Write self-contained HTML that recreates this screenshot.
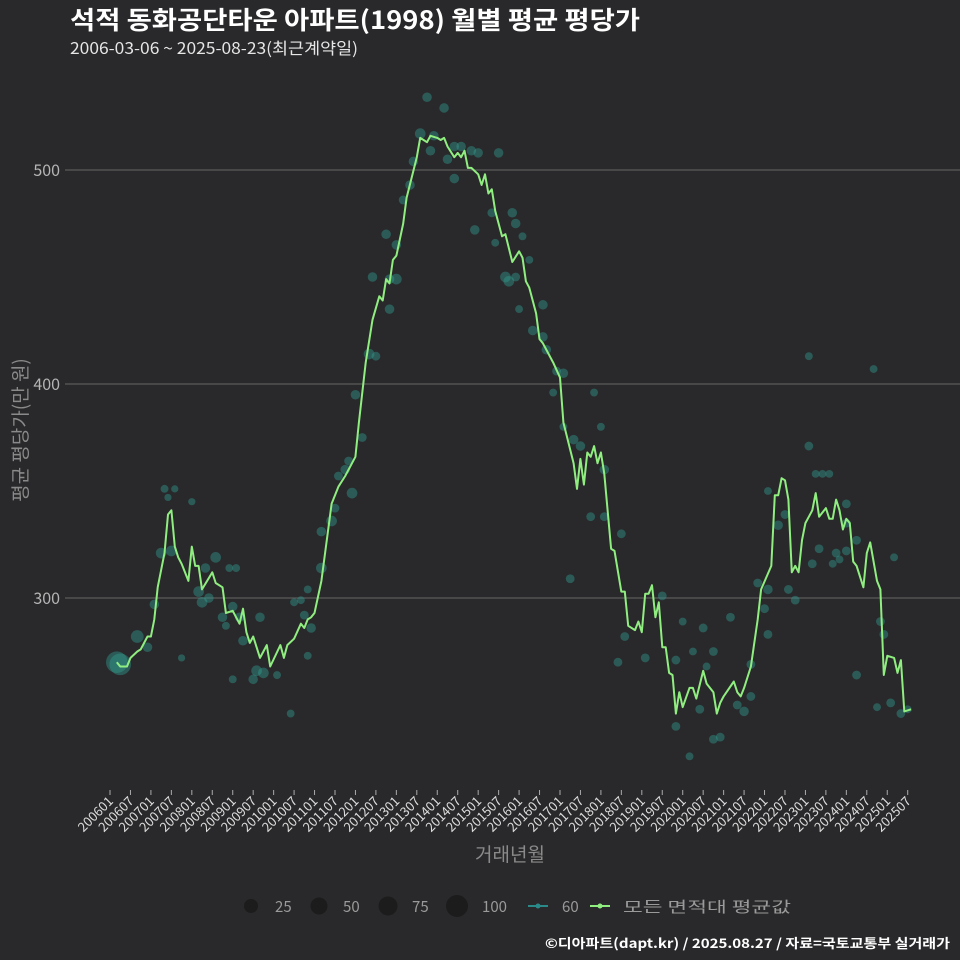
<!DOCTYPE html>
<html><head><meta charset="utf-8">
<style>
html,body{margin:0;padding:0;background:#29292b;}
body{width:960px;height:960px;overflow:hidden;position:relative;font-family:"Noto Sans CJK KR","Liberation Sans",sans-serif;}
#ytitle{position:absolute;left:20px;top:430px;width:200px;margin-left:-100px;margin-top:-12px;height:24px;line-height:24px;text-align:center;color:#8a8a8a;font-size:19px;transform:rotate(-90deg);white-space:nowrap;}
</style></head>
<body>
<svg id="chart" width="960" height="960" xmlns="http://www.w3.org/2000/svg" style="position:absolute;left:0;top:0;font-family:'Noto Sans CJK KR','Liberation Sans',sans-serif">
<rect width="960" height="960" fill="#29292b"/>
<text x="70" y="29" fill="#ffffff" font-size="25" font-weight="bold" textLength="570" lengthAdjust="spacingAndGlyphs">석적 동화공단타운 아파트(1998) 월별 평균 평당가</text>
<text x="70" y="54" fill="#e6e6e6" font-size="16" textLength="288" lengthAdjust="spacingAndGlyphs">2006-03-06 ~ 2025-08-23(최근계약일)</text>
<g id="grid"></g>
<g id="bubbles"></g>
<g id="line"></g>
<g id="xaxis"></g>
<text x="510" y="861" fill="#8a8a8a" font-size="19" text-anchor="middle">거래년월</text>
<g>
  <circle cx="251" cy="906" r="7" fill="#1c1c1c"/>
  <text x="275" y="912" fill="#9a9a9a" font-size="15">25</text>
  <circle cx="319" cy="906" r="8.5" fill="#1c1c1c"/>
  <text x="343" y="912" fill="#9a9a9a" font-size="15">50</text>
  <circle cx="388" cy="906" r="9.5" fill="#1c1c1c"/>
  <text x="412" y="912" fill="#9a9a9a" font-size="15">75</text>
  <circle cx="457" cy="906" r="11" fill="#1c1c1c"/>
  <text x="482" y="912" fill="#9a9a9a" font-size="15">100</text>
  <line x1="528" y1="906" x2="548" y2="906" stroke="#2a8a8a" stroke-width="2"/>
  <circle cx="538" cy="906" r="2.5" fill="#2a8a8a"/>
  <text x="562" y="912" fill="#9a9a9a" font-size="15">60</text>
  <line x1="590" y1="906" x2="610" y2="906" stroke="#90ee80" stroke-width="2"/>
  <circle cx="600" cy="906" r="2.5" fill="#90ee80"/>
  <text x="623" y="912" fill="#9a9a9a" font-size="15" textLength="168" lengthAdjust="spacingAndGlyphs">모든 면적대 평균값</text>
</g>
<text x="950" y="948" fill="#ffffff" font-size="13" font-weight="bold" text-anchor="end" textLength="405" lengthAdjust="spacingAndGlyphs">©디아파트(dapt.kr) / 2025.08.27 / 자료=국토교통부 실거래가</text>
</svg>
<div id="ytitle">평균 평당가(만 원)</div>
<script>
// months since 2006-01 for the average line
const lineMonths=[2,3,5,6,8,9,11,12,13,14,16,17,18,19,20,21,23,24,25,26,27,30,31,33,34,36,38,39,40,41,42,44,46,47,50,51,52,54,56,57,58,59,60,62,64,65,67,69,72,73,75,77,79,80,81,82,83,84,86,87,90,91,92,93,94,96,97,98,99,101,102,103,104,105,106,108,109,110,111,112,113,115,116,118,120,121,122,123,125,126,127,130,132,133,136,137,138,139,140,141,142,143,144,145,147,148,150,151,152,154,155,156,157,158,159,160,161,162,163,164,165,166,167,168,170,171,172,174,175,177,178,179,180,183,184,185,186,188,189,190,191,194,195,196,197,198,199,200,201,202,203,204,206,207,208,210,211,212,213,214,215,216,217,218,219,221,222,223,225,226,227,228,230,231,232,233,235];
const lineValues=[270,268,268,272,275,276,282,282,290,305,321,339,341,324,319,316,308,324,315,315,304,312,307,305,293,294,288,295,284,279,282,272,278,268,278,272,278,281,288,286,290,291,293,308,332,344,352,357,366,382,410,430,441,439,449,447,458,460,475,487,506,515,514,513,516,515,514,515,511,506,508,506,509,501,501,498,493,498,489,491,481,469,470,457,462,459,448,445,433,421,419,410,403,382,363,351,365,353,368,366,371,363,368,358,323,322,303,303,287,285,289,284,302,302,306,291,298,277,277,265,264,246,256,249,258,258,253,266,260,256,246,251,254,261,256,254,258,268,279,290,304,315,348,348,356,355,346,312,315,312,327,335,341,349,338,342,337,337,346,341,332,337,335,317,315,305,321,326,308,304,264,273,272,265,271,247,248];
// individual 60㎡ monthly averages: month, value, count
const dotMonths=[2,3,8,11,16,17,19,24,21,13,15,18,26,28,31,35,37,33,27,29,36,38,44,34,39,42,36,43,45,49,53,54,56,58,57,59,58,62,62,65,66,67,69,71,70,74,72,76,78,77,82,82,84,81,86,84,88,89,91,93,98,94,95,99,101,101,103,106,108,114,107,112,113,118,119,121,123,119,116,117,120,127,124,127,128,131,130,133,133,136,138,142,144,145,141,145,150,135,151,149,157,162,166,168,171,174,175,177,166,170,173,177,179,182,184,186,188,188,190,193,192,193,193,196,198,199,201,205,207,209,211,214,216,216,219,216,213,212,208,206,224,230,226,227,219,225,229,232,234,205];
const dotValues=[270,269,282,277,351,347,351,345,272,297,321,322,303,314,319,314,314,291,298,300,296,291,291,287,280,262,262,266,265,264,246,298,299,304,292,286,273,314,331,336,342,357,360,349,364,375,395,414,413,450,449,435,449,470,486,465,493,504,517,534,529,509,516,505,511,496,511,509,508,508,472,480,466,480,475,469,458,450,450,448,435,437,425,422,416,406,396,405,380,374,371,396,380,360,338,338,330,309,282,270,272,301,271,289,275,286,268,275,240,226,248,234,235,291,250,247,269,254,307,304,295,283,350,334,339,304,299,371,358,358,358,318,335,344,327,322,321,316,323,316,407,319,289,283,264,249,251,246,248,413];
const dotCounts=[100,100,20,6,2,1,1,1,1,6,10,10,10,6,10,2,2,6,10,6,6,6,6,2,6,6,2,10,10,2,2,2,2,2,4,6,2,10,6,10,4,4,6,10,4,4,6,10,4,6,6,6,10,6,4,6,6,6,10,6,6,6,6,6,6,6,6,6,6,6,6,4,2,6,6,2,2,4,10,10,2,6,6,6,6,4,2,6,2,6,6,2,2,6,4,4,4,4,4,4,4,4,4,2,2,4,2,4,4,2,4,4,4,4,4,6,4,4,4,6,4,4,2,6,4,4,4,4,2,2,2,2,4,4,4,4,4,2,4,4,2,2,4,4,4,2,4,4,2,2];
const xTickLabels=[];
for(let y=2006;y<=2025;y++){xTickLabels.push(y+'01');xTickLabels.push(y+'07');}
const yTickValues=[300,400,500];

const NS='http://www.w3.org/2000/svg';
const X0=110, PXM=3.409, PLOT_L=65, PLOT_R=960;
function xScale(m){return X0+m*PXM;}
function yScale(v){return 598-(v-300)*2.14;}
function mk(tag,attrs,parent){const e=document.createElementNS(NS,tag);for(const k in attrs)e.setAttribute(k,attrs[k]);parent.appendChild(e);return e;}

const grid=document.getElementById('grid');
yTickValues.forEach(v=>{
  const l=mk('line',{x1:PLOT_L,x2:PLOT_R,y1:yScale(v),y2:yScale(v),stroke:'#666','stroke-width':1},grid);
  
  
  const t=mk('text',{x:60,y:yScale(v)+6,fill:'#b5b5b5','font-size':16,'text-anchor':'end'},grid);
  t.textContent=v;
  
  
});

const xa=document.getElementById('xaxis');
xTickLabels.forEach((lab,i)=>{
  const x=xScale(i*6);
  const tk=mk('line',{x1:x,x2:x,y1:790,y2:795,stroke:'#aaa','stroke-width':1},xa);
  
  
  const t=mk('text',{x:x+4,y:802,fill:'#dcdcdc','font-size':13,'text-anchor':'end',transform:'rotate(-45 '+(x+4)+' 802)'},xa);
  t.textContent=lab;
  
  
});

const bg=document.getElementById('bubbles');
dotMonths.forEach((m,i)=>{
  const c=mk('circle',{cx:xScale(m),cy:yScale(dotValues[i]),r:0.8*Math.sqrt(dotCounts[i])+2.8,fill:'#319a8f','fill-opacity':0.45},bg);
  
  
});

const lg=document.getElementById('line');
const d=lineMonths.map((m,i)=>(i?'L':'M')+xScale(m).toFixed(1)+','+yScale(lineValues[i]).toFixed(1)).join(' ');
const p=mk('path',{d:d,fill:'none',stroke:'#90ee80','stroke-width':2,'stroke-linejoin':'round'},lg);


</script>
</body></html>
